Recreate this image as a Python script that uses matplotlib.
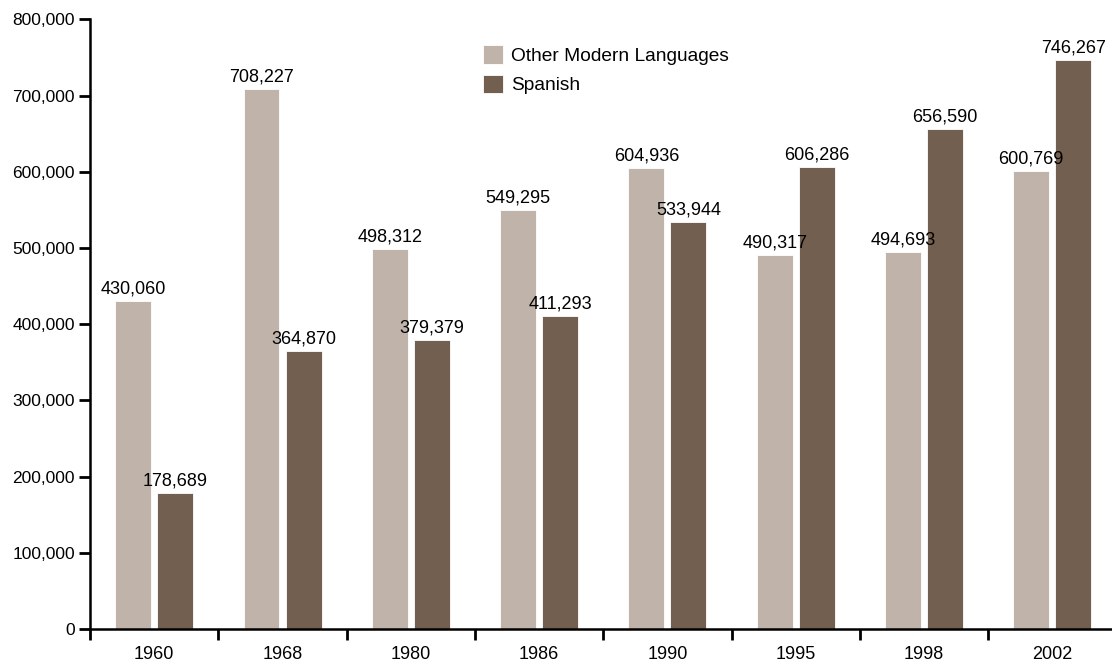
import numpy as np
import matplotlib.pyplot as plt
from matplotlib.ticker import FuncFormatter

years = ["1960", "1968", "1980", "1986", "1990", "1995", "1998", "2002"]
other_modern = [430060, 708227, 498312, 549295, 604936, 490317, 494693, 600769]
spanish = [178689, 364870, 379379, 411293, 533944, 606286, 656590, 746267]

plt.rcParams['font.family'] = ['Liberation Sans', 'DejaVu Sans']

fig = plt.figure(figsize=(11.12, 6.65), dpi=100)
ax = fig.add_axes([0.081, 0.054, 0.923, 0.917])

x = np.arange(len(years)) + 0.5
w = 0.28
off = 0.164
b1 = ax.bar(x - off, other_modern, w, color='#c0b4aa', edgecolor='white',
            linewidth=0.6, label='Other Modern Languages')
b2 = ax.bar(x + off, spanish, w, color='#735f50', edgecolor='white',
            linewidth=0.6, label='Spanish')

for bars in (b1, b2):
    for rect in bars:
        h = rect.get_height()
        ax.annotate(f"{h:,.0f}", (rect.get_x() + rect.get_width() / 2, h),
                    xytext=(0, 2.5), textcoords='offset points',
                    ha='center', va='bottom', fontsize=13)

ax.set_xlim(0, len(years))
ax.set_ylim(0, 800000)
ax.set_yticks(np.arange(0, 800001, 100000))
ax.yaxis.set_major_formatter(FuncFormatter(lambda v, p: f"{v:,.0f}"))

ax.set_xticks(np.arange(len(years) + 1))
ax.set_xticklabels([])
ax.set_xticks(x, minor=True)
ax.set_xticklabels(years, minor=True)
ax.tick_params(axis='x', which='minor', length=0, pad=12, labelsize=13)
ax.tick_params(axis='x', which='major', length=8, width=2, direction='out')
ax.tick_params(axis='y', length=8, width=2, direction='out', labelsize=12.5, pad=3)

for s in ('top', 'right'):
    ax.spines[s].set_visible(False)
for s in ('left', 'bottom'):
    ax.spines[s].set_linewidth(1.8)

ax.legend(loc='upper left', bbox_to_anchor=(0.375, 0.97), frameon=False,
          fontsize=13.8, handlelength=1.05, handleheight=1.1, handletextpad=0.45,
          labelspacing=0.5, borderaxespad=0)

fig.savefig('out.png', dpi=100)
